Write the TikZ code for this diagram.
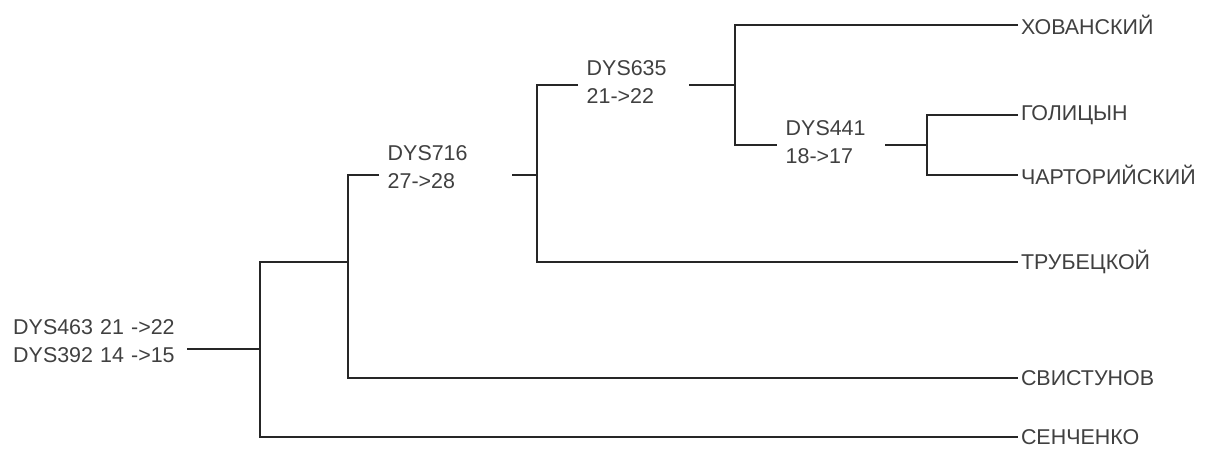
\documentclass[tikz,border=0pt]{standalone}
\usepackage{fontspec}
\setmainfont{Liberation Sans}
\usetikzlibrary{positioning, calc}

\begin{document}
\begin{tikzpicture}[x=0.02cm, y=-0.02cm, line width=1.4pt, draw=black!85,
    every node/.style={font=\fontsize{12.2}{16}\selectfont, text=black!75, inner ysep=0pt},
    snp/.style={anchor=west, align=left, inner xsep=0.15cm},
    leaf/.style={anchor=west, inner xsep=1pt}]
    \useasboundingbox (0,0) rectangle (1209,450);

    \node[snp, text width=3.31cm] (m0) at (4.5,341) {DYS463 21 ->22\\DYS392 14 ->15};
    \node[snp, text width=2.32cm] (m1) at (379,167) {DYS716\\27->28};
    \node[snp, text width=1.88cm] (m2) at (578,82) {DYS635\\21->22};
    \node[snp, text width=1.82cm] (m3) at (777,142) {DYS441\\18->17};

    \node[leaf] (hov) at (1018,25) {ХОВАНСКИЙ};
    \node[leaf] (gol) at (1018,115) {ГОЛИЦЫН};
    \node[leaf] (cha) at (1018,175) {ЧАРТОРИЙСКИЙ};
    \node[leaf] (tru) at (1018,262) {ТРУБЕЦКОЙ};
    \node[leaf] (svi) at (1018,378) {СВИСТУНОВ};
    \node[leaf] (sen) at (1018,437) {СЕНЧЕНКО};

    \coordinate (r0) at (260,349);
    \coordinate (r1) at (348,262);
    \coordinate (r2) at (537,175);
    \coordinate (r3) at (735,85);
    \coordinate (r4) at (927,145);

    \draw (m0.east |- r0) -- (r0);
    \draw (r1) -| (r0) |- (sen.west);
    \draw (m1.west |- r2) -| (r1) |- (svi.west);
    \draw (m1.east |- r2) -- (r2);
    \draw (m2.west |- r3) -| (r2) |- (tru.west);
    \draw (m2.east |- r3) -- (r3);
    \draw (hov.west) -| (r3) |- (m3.west |- r4);
    \draw (m3.east |- r4) -- (r4);
    \draw (gol.west) -| (r4) |- (cha.west);
\end{tikzpicture}
\end{document}
